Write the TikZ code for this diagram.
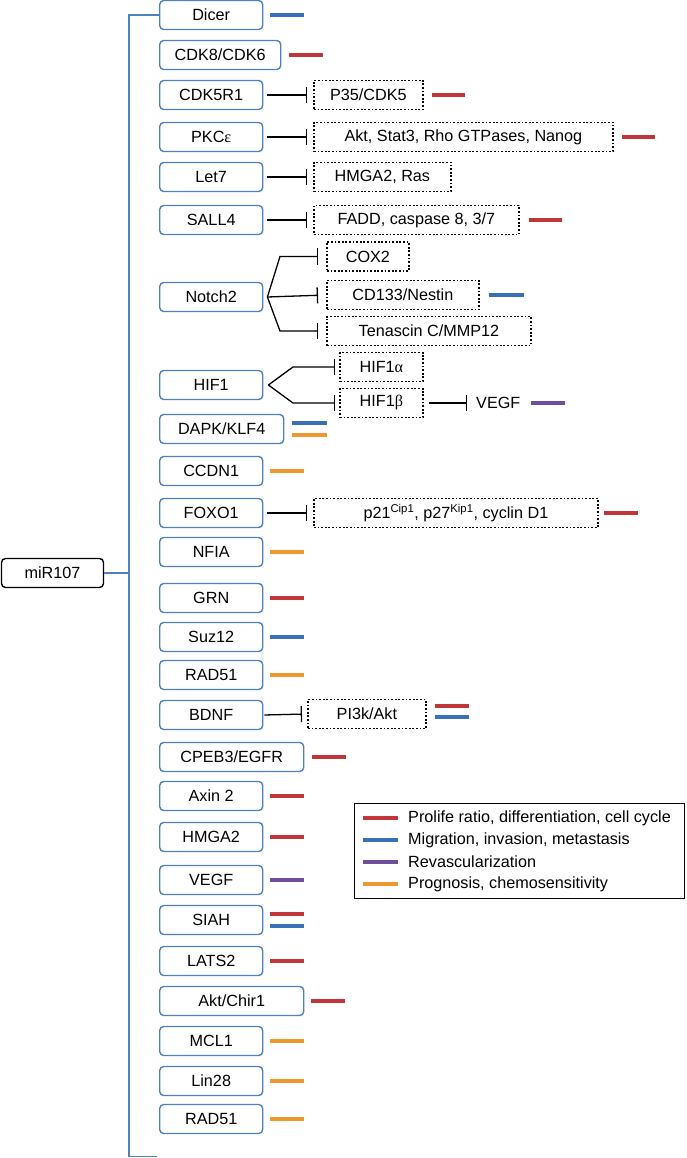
\documentclass[tikz,border=0pt]{standalone}
\usepackage{fontspec}
\setmainfont{Liberation Sans}
\newfontfamily\grk{Liberation Serif}
\usetikzlibrary{arrows.meta}

\definecolor{boxblue}{RGB}{79,129,189}
\definecolor{myred}{RGB}{192,54,58}
\definecolor{myblue}{RGB}{58,112,186}
\definecolor{mypurple}{RGB}{112,78,158}
\definecolor{myorange}{RGB}{240,152,48}

\tikzset{
  every node/.style={font=\fontsize{16.2}{19}\selectfont},
  gene/.style={draw=boxblue, line width=1.4pt, rounded corners=4pt, minimum width=103pt, minimum height=29pt, inner sep=0pt, anchor=west},
  target/.style={draw, dash pattern=on 1.8pt off 1.8pt, line width=1.8pt, minimum height=29pt, inner sep=0pt, anchor=west},
  inh/.style={line width=1.3pt, -{Bar[width=16pt,line width=1.3pt]}},
  tree/.style={draw=boxblue, line width=1.3pt},
  redbar/.style={draw=myred, line width=4pt},
  bluebar/.style={draw=myblue, line width=4pt},
  purplebar/.style={draw=mypurple, line width=4pt},
  orangebar/.style={draw=myorange, line width=4pt}
}

\begin{document}
\begin{tikzpicture}[x=1pt,y=-1pt]
    \useasboundingbox (0,0) rectangle (687,1158);

    % root and bracket
    \node[gene, draw=black, minimum width=102pt] (mir) at (0.8,573) {miR107};
    \node[gene] (dicer) at (159,15) {Dicer};
    \coordinate (brk) at (129,1156.5);
    \coordinate (bot) at (157,1156.5);
    \draw[tree] (dicer.west) -| (brk) -- (bot);
    \draw[tree] (mir.east) -- (mir.east -| brk);

    % targets of miR107
    \node[gene, minimum width=121pt] (cdk) at (159,55) {CDK8/CDK6};
    \node[gene] (cdkr) at (159,95) {CDK5R1};
    \node[gene] (pkc) at (159,137) {PKC{\grk ε}};
    \node[gene] (let) at (159,177) {Let7};
    \node[gene] (sall) at (159,220) {SALL4};
    \node[gene] (notch) at (159,297) {Notch2};
    \node[gene] (hif) at (159,385) {HIF1};
    \node[gene, minimum width=124pt] (dapk) at (159,429) {DAPK/KLF4};
    \node[gene] (ccdn) at (159,471) {CCDN1};
    \node[gene] (foxo) at (159,513) {FOXO1};
    \node[gene] (nfia) at (159,552) {NFIA};
    \node[gene] (grn) at (159,598) {GRN};
    \node[gene] (suz) at (159,637) {Suz12};
    \node[gene] (rada) at (159,675) {RAD51};
    \node[gene] (bdnf) at (159,715) {BDNF};
    \node[gene, minimum width=144pt] (cpeb) at (159,757) {CPEB3/EGFR};
    \node[gene] (axin) at (159,796) {Axin 2};
    \node[gene] (hmga) at (159,837) {HMGA2};
    \node[gene] (vegf) at (159,880) {VEGF};
    \node[gene] (siah) at (159,920) {SIAH};
    \node[gene] (lats) at (159,961) {LATS2};
    \node[gene, minimum width=144pt] (akt) at (159,1001) {Akt/Chir1};
    \node[gene] (mcl) at (159,1041) {MCL1};
    \node[gene] (lin) at (159,1081) {Lin28};
    \node[gene] (radb) at (159,1119) {RAD51};

    % downstream
    \node[target, minimum width=109pt] (p35) at (313,95) {P35/CDK5};
    \node[target, minimum width=299pt] (stat) at (313,137) {Akt, Stat3, Rho GTPases, Nanog};
    \node[target, minimum width=137pt] (ras) at (313,177) {HMGA2, Ras};
    \node[target, minimum width=205pt] (fadd) at (313,220) {FADD, caspase 8, 3/7};
    \node[target, minimum width=82pt] (cox) at (326,256.5) {COX2};
    \node[target, minimum width=152pt] (cd) at (326,295) {CD133/Nestin};
    \node[target, minimum width=204pt] (ten) at (326,331) {Tenascin C/MMP12};
    \node[target, minimum width=83pt] (hifa) at (339,367) {HIF1{\grk α}};
    \node[target, minimum width=83pt] (hifb) at (339,403) {HIF1{\grk β}};
    \node[anchor=west, inner sep=0pt] (vegfb) at (476,403) {VEGF};
    \node[target, minimum width=284pt] (p21) at (313,513) {p21\textsuperscript{Cip1}, p27\textsuperscript{Kip1}, cyclin D1};
    \node[target, minimum width=118pt] (pi3k) at (307,714) {PI3k/Akt};

    \draw[inh, shorten <=4pt, shorten >=6pt] (cdkr.east) -- (p35.west);
    \draw[inh, shorten <=4pt, shorten >=6pt] (pkc.east) -- (stat.west);
    \draw[inh, shorten <=4pt, shorten >=6pt] (let.east) -- (ras.west);
    \draw[inh, shorten <=4pt, shorten >=6pt] (sall.east) -- (fadd.west);
    \draw[inh, shorten <=4pt, shorten >=6pt] (foxo.east) -- (p21.west);
    \draw[inh, shorten <=1pt, shorten >=5pt] (bdnf.east) -- (pi3k.west);
    \coordinate (nb) at ([xshift=4pt]notch.east);
    \draw[inh, shorten >=8pt] (nb) -- ([xshift=-46pt]cox.west) -- (cox.west);
    \draw[inh, shorten >=8pt] (nb) -- (cd.west);
    \draw[inh, shorten >=8pt] (nb) -- ([xshift=-46pt]ten.west) -- (ten.west);
    \coordinate (hb) at ([xshift=5pt]hif.east);
    \draw[inh, shorten >=4pt] (hb) -- ([xshift=-46pt]hifa.west) -- (hifa.west);
    \draw[inh, shorten >=4pt] (hb) -- ([xshift=-46pt]hifb.west) -- (hifb.west);
    \draw[inh, shorten <=5pt, shorten >=9pt] (hifb.east) -- (vegfb.west);

    % effect bars
    \draw[bluebar] ([xshift=7pt]dicer.east) -- ++(34,0);
    \draw[redbar] ([xshift=8pt]cdk.east) -- ++(34,0);
    \draw[redbar] ([xshift=8pt]p35.east) -- ++(33,0);
    \draw[redbar] ([xshift=8pt]stat.east) -- ++(33,0);
    \draw[redbar] ([xshift=9pt]fadd.east) -- ++(33,0);
    \draw[bluebar] ([xshift=9pt]cd.east) -- ++(35,0);
    \draw[purplebar] ([xshift=10pt]vegfb.east) -- ++(34,0);
    \draw[bluebar] ([shift={(8,-6)}]dapk.east) -- ++(35,0);
    \draw[orangebar] ([shift={(8,6)}]dapk.east) -- ++(35,0);
    \draw[orangebar] ([xshift=7pt]ccdn.east) -- ++(34,0);
    \draw[redbar] ([xshift=5pt]p21.east) -- ++(34,0);
    \draw[orangebar] ([xshift=7pt]nfia.east) -- ++(34,0);
    \draw[redbar] ([xshift=7pt]grn.east) -- ++(34,0);
    \draw[bluebar] ([xshift=7pt]suz.east) -- ++(34,0);
    \draw[orangebar] ([xshift=7pt]rada.east) -- ++(34,0);
    \draw[redbar] ([shift={(8,-8)}]pi3k.east) -- ++(34,0);
    \draw[bluebar] ([shift={(8,3)}]pi3k.east) -- ++(34,0);
    \draw[redbar] ([xshift=8pt]cpeb.east) -- ++(34,0);
    \draw[redbar] ([xshift=7pt]axin.east) -- ++(34,0);
    \draw[redbar] ([xshift=7pt]hmga.east) -- ++(34,0);
    \draw[purplebar] ([xshift=7pt]vegf.east) -- ++(34,0);
    \draw[redbar] ([shift={(7,-6)}]siah.east) -- ++(34,0);
    \draw[bluebar] ([shift={(7,6)}]siah.east) -- ++(34,0);
    \draw[redbar] ([xshift=7pt]lats.east) -- ++(34,0);
    \draw[redbar] ([xshift=7pt]akt.east) -- ++(34,0);
    \draw[orangebar] ([xshift=7pt]mcl.east) -- ++(34,0);
    \draw[orangebar] ([xshift=7pt]lin.east) -- ++(34,0);
    \draw[orangebar] ([xshift=7pt]radb.east) -- ++(34,0);

    % legend
    \node[draw, line width=1.2pt, minimum width=330pt, minimum height=95pt, inner sep=0pt, anchor=north west] (key) at (354,803) {};
    \node[anchor=west, inner sep=0pt] (kred) at (408,818) {Prolife ratio, differentiation, cell cycle};
    \node[anchor=west, inner sep=0pt] (kblue) at (408,840) {Migration, invasion, metastasis};
    \node[anchor=west, inner sep=0pt] (kpurple) at (408,862) {Revascularization};
    \node[anchor=west, inner sep=0pt] (korange) at (408,884) {Prognosis, chemosensitivity};
    \draw[redbar] ([xshift=-10pt]kred.west) -- ++(-35,0);
    \draw[bluebar] ([xshift=-10pt]kblue.west) -- ++(-35,0);
    \draw[purplebar] ([xshift=-10pt]kpurple.west) -- ++(-35,0);
    \draw[orangebar] ([xshift=-10pt]korange.west) -- ++(-35,0);
\end{tikzpicture}
\end{document}
